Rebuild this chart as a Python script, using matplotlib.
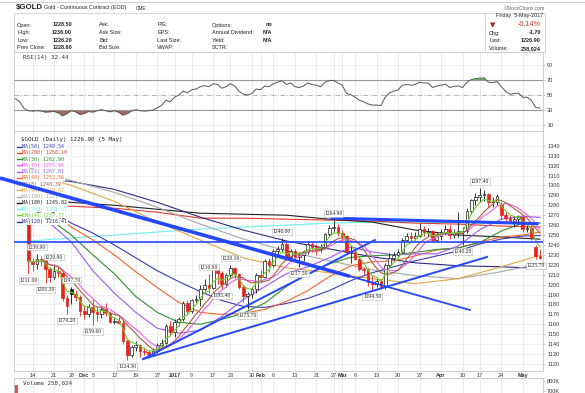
import numpy as np
import pandas as pd
import matplotlib
matplotlib.use("Agg")
import matplotlib.pyplot as plt
import matplotlib.transforms as mtransforms
from matplotlib.patches import Rectangle

W, H = 585, 393
plt.rcParams["font.family"] = ["Liberation Sans", "DejaVu Sans"]

# ---------------- data ----------------
holidays = ["2016-11-24", "2016-12-26", "2017-01-02", "2017-01-16", "2017-02-20", "2017-04-14"]
trade_days = pd.bdate_range("2016-11-11", "2017-05-05").drop(pd.to_datetime(holidays))

opens = [1266, 1224, 1221, 1226, 1225, 1216, 1208, 1214, 1212, 1187,
         1196, 1191, 1188, 1173, 1170, 1177, 1172, 1170, 1175, 1171,
         1162, 1163, 1161, 1143, 1129, 1137, 1139, 1133, 1132, 1130,
         1133, 1139, 1141, 1158, 1152, 1162, 1165, 1181, 1173, 1184,
         1186, 1196, 1200, 1197, 1216, 1212, 1201, 1210, 1217, 1211,
         1198, 1189, 1191, 1196, 1210, 1208, 1224, 1220, 1234, 1236,
         1241, 1228, 1234, 1228, 1230, 1233, 1241, 1238, 1236, 1237,
         1251, 1257, 1258, 1252, 1249, 1233, 1234, 1226, 1216, 1215,
         1203, 1201, 1204, 1198, 1220, 1227, 1230, 1233, 1245, 1249,
         1247, 1249, 1256, 1253, 1254, 1245, 1249, 1253, 1256, 1250,
         1252, 1254, 1254, 1274, 1285, 1288, 1290, 1291, 1283, 1283,
         1281, 1270, 1267, 1264, 1266, 1268, 1256, 1257, 1238, 1228.5]
highs = [1272, 1227, 1230.9, 1229, 1228, 1218, 1220.9, 1219, 1213, 1190,
         1197.7, 1195, 1190, 1179, 1180, 1186, 1177, 1178, 1181, 1173,
         1166, 1167, 1164, 1145, 1139, 1143, 1140, 1137, 1134, 1136,
         1141, 1145, 1160, 1163, 1165, 1167, 1183, 1184, 1186, 1190,
         1200, 1206, 1210.9, 1218, 1219, 1214, 1212, 1220.1, 1218, 1212,
         1200, 1193, 1198, 1212, 1215, 1226, 1227, 1236, 1239, 1246.6,
         1243, 1236, 1236, 1233, 1235, 1244, 1244, 1241, 1241, 1252,
         1260, 1264.9, 1261, 1255, 1250, 1239, 1237, 1229, 1218, 1217,
         1210, 1207, 1206, 1222, 1232, 1233, 1236, 1247, 1252, 1253,
         1253, 1262, 1259, 1257, 1255, 1253, 1256, 1260, 1260, 1256,
         1273, 1258, 1277, 1286, 1292, 1297.4, 1295, 1292, 1288, 1291,
         1283, 1273, 1270, 1268, 1270, 1269, 1260, 1260, 1240, 1236]
lows = [1211.0, 1214, 1216, 1219, 1201.3, 1203, 1206, 1208, 1183, 1170.2,
        1180, 1183, 1168, 1165, 1167, 1159.6, 1163, 1166, 1168, 1161,
        1160, 1160.5, 1140, 1124.3, 1127, 1133, 1127, 1129, 1126, 1129,
        1131, 1136, 1140, 1148, 1147, 1158, 1163, 1170, 1171, 1181,
        1178, 1194, 1192, 1196, 1201, 1195.4, 1198, 1208, 1207, 1196,
        1182, 1175.7, 1187, 1192, 1202, 1207, 1213, 1218, 1230, 1233,
        1225, 1225, 1224, 1217.5, 1224, 1231, 1233, 1230, 1233, 1236,
        1249, 1253, 1249, 1244, 1231, 1222, 1225, 1214, 1210, 1199,
        1194.5, 1198, 1196, 1196, 1218, 1225, 1228, 1232, 1243, 1243,
        1245, 1248, 1249, 1249, 1243, 1243, 1245, 1250, 1246, 1247,
        1248, 1240.2, 1252, 1271, 1280, 1283, 1284, 1278, 1278, 1280,
        1266, 1263, 1262, 1258, 1261, 1253, 1253, 1245, 1225.7, 1226.2]
closes = [1224, 1221, 1226, 1225, 1216, 1208, 1214, 1212, 1187, 1178,
          1191, 1188, 1173, 1170, 1177, 1172, 1170, 1175, 1171, 1162,
          1163, 1161, 1143, 1129, 1137, 1139, 1133, 1132, 1130, 1133,
          1139, 1141, 1158, 1152, 1162, 1165, 1181, 1173, 1184, 1186,
          1196, 1200, 1197, 1216, 1212, 1201, 1210, 1217, 1211, 1198,
          1189, 1191, 1196, 1210, 1208, 1224, 1220, 1234, 1236, 1241,
          1228, 1234, 1228, 1230, 1233, 1241, 1238, 1236, 1237, 1251,
          1257, 1258, 1252, 1249, 1233, 1234, 1226, 1216, 1215, 1203,
          1201, 1204, 1198, 1220, 1227, 1230, 1233, 1245, 1249, 1247,
          1249, 1256, 1253, 1254, 1245, 1249, 1253, 1256, 1250, 1252,
          1254, 1254, 1274, 1285, 1288, 1290, 1291, 1283, 1283, 1289,
          1270, 1267, 1264, 1266, 1268, 1256, 1257, 1248, 1228.6, 1226.9]

# moving averages (bar index, price)
ma_mid_idx = [0, 5, 10, 15, 20, 25, 30, 35, 40, 45, 50, 55, 60, 65, 70, 75,
              80, 85, 90, 95, 100, 105, 110, 115, 119]
ma21 = [1286, 1262, 1243, 1214, 1191.5, 1172, 1156, 1151, 1154, 1168, 1185, 1198, 1211,
        1218, 1227, 1238, 1233, 1230, 1231, 1231, 1239, 1255.5, 1266, 1269, 1267.8]
ma30 = [1278, 1266, 1250, 1230, 1211, 1188, 1172, 1162, 1160, 1165, 1171, 1181.5, 1198,
        1211, 1221, 1227.5, 1229, 1230, 1232.5, 1235.5, 1237, 1242.5, 1254, 1262, 1262.2]
ma40 = [1285, 1275, 1258, 1245, 1230, 1213, 1197, 1182, 1172, 1170, 1171, 1175, 1183,
        1194, 1208, 1219, 1223, 1224, 1229, 1235, 1237, 1243, 1248, 1250, 1253]
ma50 = [1288, 1275, 1262, 1252, 1240, 1227, 1214, 1203, 1193, 1184, 1178, 1177, 1181,
        1186, 1194, 1204, 1212, 1218, 1224, 1229, 1234, 1241, 1246, 1249, 1249.5]

ma_long_idx = [0, 10, 20, 30, 40, 50, 60, 70, 80, 90, 100, 110, 119]
ma90 = [1312, 1300, 1284, 1263, 1245, 1227, 1217, 1212, 1206, 1201, 1206, 1218, 1229.6]
ma100 = [1318, 1305, 1293, 1278, 1261, 1246, 1234, 1224, 1215, 1209, 1206, 1213, 1221]
ma120 = [1308, 1304, 1296, 1283, 1268, 1255, 1244, 1236, 1228, 1222, 1219, 1218, 1216.4]
ma180 = [1285, 1283, 1280, 1276, 1272, 1271, 1270, 1266, 1263, 1255, 1250, 1248, 1245.8]
ma200 = [1278, 1279, 1277, 1273, 1267, 1267, 1266, 1265, 1264, 1262, 1261, 1259, 1258.1]
ma250 = [1244, 1247, 1250, 1253, 1256, 1258, 1260, 1262, 1263, 1263, 1262.5, 1262, 1261.6]

# RSI(14), one value per bar starting 3 bars before the first candle
rsi_start = -3
rsi_vals = [45, 41, 32, 29, 28.5, 29, 28.5, 27, 27.5, 28,
            26, 22, 25, 29, 27.5, 24, 25, 28, 27, 29,
            30.5, 29, 27.5, 29, 27, 23, 25, 28.5, 30.5, 29,
            28.5, 29, 30, 33, 36, 43, 41, 47, 50, 55,
            53, 57, 58, 61, 62.5, 61, 65, 64, 59, 61,
            65, 62, 55, 51, 50, 52, 58, 57, 62, 61,
            65, 67, 69, 64, 66, 61, 60, 62, 66, 64,
            63, 61, 67, 69, 69.5, 66, 63, 52, 50.5, 47,
            43, 41, 38, 36.5, 36.5, 36, 47, 53, 55, 57,
            63, 64, 63, 64, 67, 66, 66, 60, 62, 63,
            64.5, 60, 61.5, 62, 60, 67, 70.5, 72, 72.5, 73,
            67, 66.5, 68, 61, 55, 51, 52, 52.5, 47, 47,
            43, 33.5, 32.44]

# only volume bar tall enough to show in the clipped volume pane
vol_idx = [-3]
vol_vals = [765000]

# hand drawn trend lines (bar index, price)
trend_thick_x, trend_thick_y = [-6.6, 74.8], [1307.5, 1208.4]
trend_thin_x, trend_thin_y = [74.8, 102.7], [1208.4, 1174.4]
trend_flat_y = 1242.5
trend_top_x, trend_top_y = [70.6, 118.3], [1267.0, 1261.5]
trend_a_x, trend_a_y = [26.7, 80.6], [1125.0, 1245.0]
trend_b_x, trend_b_y = [26.7, 106.7], [1125.0, 1227.9]

swing_idx = [0, 2, 4, 6, 9, 10, 15, 23, 42, 45, 47, 51, 59, 63, 71, 80, 101, 105, 118]
swing_kind = ["L", "H", "L", "H", "L", "H", "L", "L", "H", "L", "H", "L", "H", "L", "H",
              "L", "L", "H", "L"]

tick_days = ["2016-11-14", "2016-11-21", "2016-11-28", "2016-12-01", "2016-12-05",
             "2016-12-12", "2016-12-19", "2016-12-27", "2017-01-03", "2017-01-09",
             "2017-01-17", "2017-01-23", "2017-01-30", "2017-02-01", "2017-02-06",
             "2017-02-13", "2017-02-21", "2017-02-27", "2017-03-01", "2017-03-06",
             "2017-03-13", "2017-03-20", "2017-03-27", "2017-04-03", "2017-04-10",
             "2017-04-17", "2017-04-24", "2017-05-01"]
tick_labels = ["14", "21", "28", "Dec", "5", "12", "19", "27", "2017", "9", "17", "23",
               "30", "Feb", "6", "13", "21", "27", "Mar", "6", "13", "20", "27", "Apr",
               "10", "17", "24", "May"]
bold_labels = {"Dec", "2017", "Feb", "Mar", "Apr", "May"}

legend_labels = ["MA(50) 1249.54", "MA(200) 1258.10", "MA(30) 1262.90", "MA(10) 1255.96",
                 "MA(21) 1267.81", "MA(40) 1253.56", "MA(8) 1248.39", "MA(90) 1229.67",
                 "MA(100) 1221.90", "MA(180) 1245.82", "MA(250) 1261.61", "EMA(4) 1237.77",
                 "MA(120) 1216.41"]

# ---------------- colours ----------------
c50, c200, c30, c10 = "#3b3bb3", "#e23a2e", "#2f8f2f", "#ee5cee"
c21, c40, c8, c90 = "#9a5cf0", "#f2652e", "#a0623c", "#e4a545"
c100, c180, c250, c4 = "#a8a8a8", "#222222", "#6ef0f0", "#6ccf2a"
c120 = "#2c2c86"
legend_colors = [c50, c200, c30, c10, c21, c40, c8, c90, c100, c180, c250, c4, c120]
trend_col = "#2548ff"

# ---------------- figure ----------------
fig = plt.figure(figsize=(W / 100, H / 100), dpi=100)
px = mtransforms.Affine2D().scale(1, -1).translate(0, H)   # pixel coords from top-left


def panel(top, bottom):
    return [14 / W, 1 - bottom / H, (543 - 14) / W, (bottom - top) / H]


ax_rsi = fig.add_axes(panel(52, 131))
ax = fig.add_axes(panel(131, 371))
ax_vol = fig.add_axes(panel(378, 393))

n = len(closes)
xs = np.arange(n)
tick_x = trade_days.get_indexer(pd.to_datetime(tick_days))

for a in (ax_rsi, ax, ax_vol):
    a.set_xlim(-3.33, 119.7)
    for s in a.spines.values():
        s.set_color("#c4c4c4")
        s.set_linewidth(0.6)
    a.yaxis.tick_right()
    a.tick_params(axis="y", labelsize=4, length=1.5, width=0.4, color="#999999",
                  pad=1.5, labelcolor="#333333")
    a.set_xticks(tick_x)
    a.tick_params(axis="x", length=0, labelbottom=False)
    a.grid(axis="x", color="#e3e3e3", lw=0.5)
    a.set_axisbelow(True)

# ---- price pane ----
ax.set_ylim(1112.9, 1354.9)
ax.set_yticks(np.arange(1120, 1350, 10))
ax.grid(axis="y", color="#ededed", lw=0.5)
ax.tick_params(axis="x", labelbottom=True, labelsize=4, pad=1.2, labelcolor="#333333")
ax.set_xticklabels(tick_labels)
for lab in ax.get_xticklabels():
    if lab.get_text() in bold_labels:
        lab.set_fontweight("bold")

# moving averages
close_s = pd.Series(closes)
ax.plot(ma_long_idx, ma250, color=c250, lw=0.8, zorder=2.5)
ax.plot(ma_long_idx, ma200, color=c200, lw=0.8, zorder=2.5)
ax.plot(ma_long_idx, ma180, color=c180, lw=0.8, zorder=2.5)
ax.plot(ma_long_idx, ma120, color=c120, lw=0.8, zorder=2.5)
ax.plot(ma_long_idx, ma100, color=c100, lw=0.8, zorder=2.5)
ax.plot(ma_long_idx, ma90, color=c90, lw=0.8, zorder=2.5)
ax.plot(ma_mid_idx, ma50, color=c50, lw=0.8, zorder=2.5)
ax.plot(ma_mid_idx, ma40, color=c40, lw=0.8, zorder=2.5)
ax.plot(ma_mid_idx, ma30, color=c30, lw=0.8, zorder=2.5)
ax.plot(ma_mid_idx, ma21, color=c21, lw=0.8, zorder=2.5)

# candles
prev_close = np.r_[opens[0], closes[:-1]]
for i in range(n):
    o, h, l, c = opens[i], highs[i], lows[i], closes[i]
    col = "#151515" if c >= prev_close[i] else "#e5231b"
    face = "white" if c > o else col
    ax.vlines(i, l, h, color=col, lw=0.6, zorder=3)
    lo, hi = min(o, c), max(o, c)
    ax.bar(i, max(hi - lo, 0.5), bottom=lo, width=0.62, facecolor=face,
           edgecolor=col, lw=0.5, zorder=3.2)

# short averages hug the candles
ax.plot(xs, close_s.rolling(10, min_periods=1).mean(), color=c10, lw=0.8, zorder=3.5)
ax.plot(xs, close_s.rolling(8, min_periods=1).mean(), color=c8, lw=0.8, zorder=3.5)
ax.plot(xs, close_s.ewm(span=4, adjust=False).mean(), color=c4, lw=0.8, zorder=3.5)

# legend block with white text backgrounds
ax.text(21, 140, "$GOLD (Daily) 1226.90 (5 May)", transform=px, fontsize=4.2,
        family="DejaVu Sans Mono", va="center", color="#222222", zorder=4,
        bbox=dict(facecolor="white", edgecolor="none", pad=0.3))
for k, (lab, col) in enumerate(zip(legend_labels, legend_colors)):
    y = 146.7 + 6.25 * k
    ax.plot([16.5, 21.5], [y, y], transform=px, color=col, lw=1.0, zorder=4.1, clip_on=False)
    ax.text(22.5, y, lab, transform=px, fontsize=3.6, family="DejaVu Sans Mono",
            va="center", color=col, zorder=4,
            bbox=dict(facecolor="white", edgecolor="none", pad=0.25))

# trend lines
ax.plot(trend_thick_x, trend_thick_y, color=trend_col, lw=2.6, zorder=5,
        clip_on=False, solid_capstyle="butt")
ax.plot(trend_thin_x, trend_thin_y, color=trend_col, lw=1.3, zorder=5)
ax.axhline(trend_flat_y, color=trend_col, lw=1.2, zorder=5)
ax.plot(trend_top_x, trend_top_y, color=trend_col, lw=2.2, zorder=5)
ax.plot(trend_a_x, trend_a_y, color=trend_col, lw=1.4, zorder=5)
ax.plot(trend_b_x, trend_b_y, color=trend_col, lw=1.4, zorder=5)

# swing high / low labels
for i, kind in zip(swing_idx, swing_kind):
    price = highs[i] if kind == "H" else lows[i]
    off = 4.8 if kind == "H" else -4.8
    ax.annotate(f"{price:.2f}", (i, price), xytext=(0, off), textcoords="offset points",
                ha="center", va="center", fontsize=4.1, family="Liberation Serif",
                color="#222222", zorder=6,
                bbox=dict(facecolor="white", edgecolor="#b5b5b5", lw=0.4, pad=0.5))

# ---- RSI pane ----
rsi_x = np.arange(rsi_start, rsi_start + len(rsi_vals))
rsi_arr = np.array(rsi_vals)
ax_rsi.set_ylim(2, 107.3)
ax_rsi.set_yticks([10, 30, 50, 70, 90])
for lvl in (10, 90):
    ax_rsi.axhline(lvl, color="#ededed", lw=0.5, zorder=0)
ax_rsi.axhline(70, color="#9a9a9a", lw=0.8)
ax_rsi.axhline(30, color="#9a9a9a", lw=0.8)
ax_rsi.axhline(50, color="#a8a8a8", lw=0.6, ls=(0, (6, 2, 1, 2)))
ax_rsi.fill_between(rsi_x, rsi_arr, 30, where=rsi_arr < 30, interpolate=True,
                    color="#a8655b", lw=0)
ax_rsi.fill_between(rsi_x, rsi_arr, 70, where=rsi_arr > 70, interpolate=True,
                    color="#52b046", lw=0)
ax_rsi.plot(rsi_x, rsi_arr, color="#555555", lw=0.7)
ax_rsi.text(23, 57.5, "RSI(14) 32.44", transform=px, fontsize=4.2,
            family="DejaVu Sans Mono", va="center", color="#333333")

# ---- volume pane ----
ax_vol.set_ylim(680000, 830000)
ax_vol.set_yticks([700000, 800000])
ax_vol.set_yticklabels(["700K", "800K"])
ax_vol.bar(vol_idx, vol_vals, width=0.62, color="#d9534f", edgecolor="#b03030", lw=0.4)
ax_vol.text(23, 384, "Volume 258,024", transform=px, fontsize=4.2,
            family="DejaVu Sans Mono", va="center", color="#333333")


# ---- header ----
def ptext(x, y, s, **kw):
    kw.setdefault("va", "center")
    kw.setdefault("fontsize", 4)
    kw.setdefault("color", "#222222")
    fig.text(x / W, 1 - y / H, s, **kw)


fig.add_artist(plt.Line2D([0, 1], [1 - 1.8 / H] * 2, color="#d0d0d0", lw=0.8))
fig.add_artist(Rectangle((14 / W, 1 - 52 / H), (545 - 14) / W, 39 / H, fill=False,
                         ec="#cfcfcf", lw=0.6))
fig.add_artist(plt.Line2D([485 / W] * 2, [1 - 13 / H, 1 - 52 / H], color="#cfcfcf", lw=0.6))

ptext(16, 8, "$GOLD", fontsize=5.6, fontweight="bold")
ptext(44, 8, "Gold - Continuous Contract (EOD)", fontsize=3.9)
ptext(136, 8, "CME", fontsize=3.4)
ptext(545, 9, "\u00a9StockCharts.com", fontsize=3.5, ha="right", color="#666666")

stat_rows = [25, 32.5, 40, 47.5]
col1 = ["Open:", "High:", "Low:", "Prev Close:"]
val1 = ["1228.50", "1236.00", "1226.20", "1228.60"]
col2 = ["Ask:", "Ask Size:", "Bid:", "Bid Size:"]
col3 = ["P/E:", "EPS:", "Last Size:", "VWAP:"]
col4 = ["Options:", "Annual Dividend:", "Yield:", "SCTR:"]
val4 = ["no", "N/A", "N/A", ""]
for y, a1, v1, a2, a3, a4, v4 in zip(stat_rows, col1, val1, col2, col3, col4, val4):
    ptext(17, y, a1)
    ptext(72, y, v1, ha="right", fontweight="bold")
    ptext(99, y, a2)
    ptext(157, y, a3)
    ptext(212, y, a4)
    ptext(272, y, v4, ha="right", fontweight="bold")

ptext(543, 16, "Friday  5-May-2017", ha="right", fontsize=3.9)
ptext(493, 25, "\u25bc", color="#b22222", fontsize=5, ha="center", family="DejaVu Sans")
ptext(541, 25, "-0.14%", ha="right", fontsize=5.2, color="#c0392b")
ptext(489, 33, "Chg:")
ptext(541, 33, "-1.70", ha="right", fontweight="bold")
ptext(489, 41, "Last:")
ptext(541, 41, "1226.90", ha="right", fontweight="bold")
ptext(489, 48.5, "Volume:")
ptext(541, 48.5, "258,024", ha="right", fontweight="bold")

fig.savefig("out.png", dpi=100, facecolor="white")
